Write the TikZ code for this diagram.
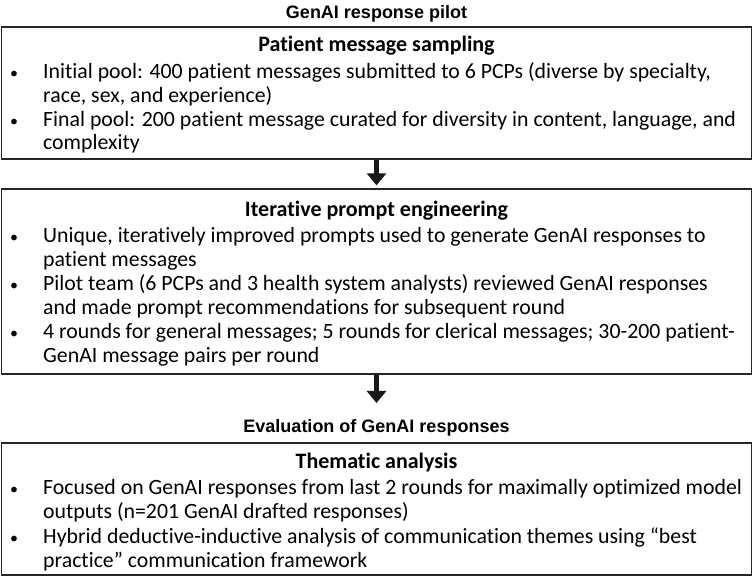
\documentclass[tikz,border=0pt]{standalone}
\usepackage{fontspec}
\setmainfont[Ligatures=NoCommon]{Carlito}
\newfontfamily\titlefont{Liberation Sans}
\usetikzlibrary{arrows.meta}
\begin{document}
\begin{tikzpicture}[x=1pt,y=-1pt,
  frame/.style={draw=black!85, line width=1.3pt, minimum width=750pt, inner sep=0pt},
  body/.style={font=\fontsize{21.8}{24}\selectfont, inner sep=0pt, anchor=base west},
  bul/.style={font=\fontsize{16}{24}\selectfont, inner sep=0pt, anchor=base},
  head/.style={font=\fontsize{22}{24}\selectfont\bfseries, inner sep=0pt, anchor=base},
  ttl/.style={font=\titlefont\fontsize{18}{20}\selectfont\bfseries, inner sep=0pt, anchor=base},
  flow/.style={-{Triangle[width=19pt,length=12pt]}, line width=5.5pt, draw=black!90}
]
\useasboundingbox (0,0) rectangle (753,577);

% title
\node[ttl] (title) at (376.5,19) {GenAI response pilot};

% box 1
\node[frame, minimum height=132pt] (box1) at (376.5,93) {};
\node[head] (h1) at (376.5,52) {Patient message sampling};
\node[bul] (k11) at (14,79) {•};
\node[body] (l11) at (43,79) {Initial pool: 400 patient messages submitted to 6 PCPs (diverse by specialty,};
\node[body] (l12) at (43,103) {race, sex, and experience)};
\node[bul] (k12) at (14,127) {•};
\node[body] (l13) at (43,127) {Final pool: 200 patient message curated for diversity in content, language, and};
\node[body] (l14) at (43,150) {complexity};

% box 2
\node[frame, minimum height=185pt] (box2) at (376.5,281.5) {};
\node[head] (h2) at (376.5,217) {Iterative prompt engineering};
\node[bul] (k21) at (14,243) {•};
\node[body] (l21) at (43,243) {Unique, iteratively improved prompts used to generate GenAI responses to};
\node[body] (l22) at (43,267) {patient messages};
\node[bul] (k22) at (14,291) {•};
\node[body] (l23) at (43,291) {Pilot team (6 PCPs and 3 health system analysts) reviewed GenAI responses};
\node[body] (l24) at (43,315) {and made prompt recommendations for subsequent round};
\node[bul] (k23) at (14,339) {•};
\node[body] (l25) at (43,339) {4 rounds for general messages; 5 rounds for clerical messages; 30-200 patient-};
\node[body] (l26) at (43,363) {GenAI message pairs per round};

% evaluation title
\node[ttl] (evt) at (376.5,433) {Evaluation of GenAI responses};

% box 3
\node[frame, minimum height=132pt] (box3) at (376.5,509) {};
\node[head] (h3) at (376.5,468) {Thematic analysis};
\node[bul] (k31) at (14,494) {•};
\node[body] (l31) at (43,494) {Focused on GenAI responses from last 2 rounds for maximally optimized model};
\node[body] (l32) at (43,518) {outputs (n=201 GenAI drafted responses)};
\node[bul] (k32) at (14,543) {•};
\node[body] (l33) at (43,543) {Hybrid deductive-inductive analysis of communication themes using “best};
\node[body] (l34) at (43,567) {practice” communication framework};

% arrows
\coordinate (a2end) at (376.5,403);
\draw[flow, shorten >=3pt] (box1.south) -- (box2.north);
\draw[flow] (box2.south) -- (a2end);
\end{tikzpicture}
\end{document}
